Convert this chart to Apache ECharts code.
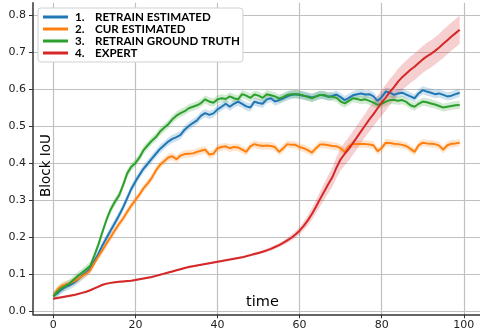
<!DOCTYPE html>
<html><head><meta charset="utf-8">
<script src="https://cdn.jsdelivr.net/npm/echarts@6/dist/echarts.min.js"></script>
<style>html,body{margin:0;padding:0;background:#fff}#c{width:480px;height:333px}</style>
</head><body><div id="c"></div>
<script>
const timeSteps = [...Array(100).keys()];
const seriesNames = ['RETRAIN ESTIMATED', 'CUR ESTIMATED', 'RETRAIN GROUND TRUTH', 'EXPERT'];
const xTicks = [0, 20, 40, 60, 80, 100];
const yTicks = [0, 0.1, 0.2, 0.3, 0.4, 0.5, 0.6, 0.7, 0.8];

const retrainEstimated = [
0.040,0.048,0.058,0.065,0.070,0.076,0.085,0.095,0.105,0.115,
0.135,0.155,0.178,0.198,0.218,0.238,0.258,0.280,0.305,0.330,
0.350,0.368,0.385,0.398,0.412,0.425,0.438,0.448,0.458,0.465,
0.470,0.476,0.490,0.500,0.508,0.515,0.528,0.535,0.530,0.534,
0.545,0.552,0.560,0.552,0.560,0.566,0.560,0.553,0.550,0.566,
0.562,0.560,0.572,0.575,0.566,0.570,0.575,0.580,0.584,0.586,
0.584,0.582,0.580,0.577,0.580,0.584,0.583,0.579,0.581,0.585,
0.578,0.570,0.576,0.583,0.586,0.588,0.585,0.586,0.580,0.568,
0.578,0.593,0.590,0.584,0.588,0.590,0.585,0.580,0.575,0.588,
0.597,0.593,0.590,0.586,0.588,0.584,0.580,0.582,0.586,0.590];

const curEstimated = [
0.040,0.058,0.068,0.072,0.075,0.080,0.087,0.094,0.101,0.110,
0.130,0.148,0.165,0.183,0.200,0.218,0.235,0.250,0.268,0.285,
0.300,0.315,0.332,0.345,0.360,0.380,0.395,0.405,0.415,0.418,
0.410,0.420,0.424,0.425,0.426,0.430,0.433,0.436,0.423,0.425,
0.440,0.443,0.445,0.440,0.443,0.442,0.436,0.430,0.445,0.451,
0.448,0.446,0.447,0.446,0.443,0.430,0.440,0.451,0.449,0.449,
0.443,0.440,0.435,0.428,0.440,0.450,0.450,0.448,0.446,0.445,
0.440,0.430,0.445,0.452,0.451,0.451,0.451,0.450,0.448,0.432,
0.440,0.455,0.454,0.452,0.451,0.449,0.446,0.438,0.430,0.448,
0.455,0.453,0.452,0.451,0.447,0.436,0.448,0.452,0.453,0.455];

const retrainGroundTruth = [
0.040,0.052,0.062,0.068,0.075,0.085,0.095,0.104,0.113,0.122,
0.150,0.180,0.215,0.248,0.275,0.295,0.312,0.340,0.372,0.390,
0.400,0.415,0.435,0.448,0.460,0.470,0.485,0.495,0.505,0.518,
0.528,0.535,0.540,0.548,0.552,0.556,0.562,0.572,0.566,0.563,
0.572,0.575,0.573,0.580,0.575,0.572,0.586,0.582,0.576,0.585,
0.582,0.576,0.586,0.583,0.580,0.574,0.578,0.584,0.586,0.586,
0.585,0.582,0.578,0.575,0.580,0.584,0.583,0.580,0.579,0.576,
0.566,0.561,0.568,0.575,0.573,0.570,0.572,0.568,0.563,0.557,
0.560,0.566,0.570,0.570,0.568,0.570,0.565,0.556,0.552,0.560,
0.566,0.564,0.561,0.558,0.554,0.550,0.552,0.554,0.556,0.557];

const expert = [
0.033,0.035,0.037,0.039,0.041,0.043,0.046,0.049,0.052,0.056,
0.061,0.066,0.071,0.074,0.076,0.078,0.079,0.080,0.081,0.082,
0.084,0.086,0.088,0.090,0.092,0.095,0.098,0.101,0.104,0.107,
0.110,0.113,0.116,0.119,0.121,0.123,0.125,0.127,0.129,0.131,
0.133,0.135,0.137,0.139,0.141,0.143,0.145,0.148,0.151,0.154,
0.157,0.160,0.164,0.168,0.173,0.178,0.184,0.191,0.198,0.207,
0.217,0.230,0.245,0.262,0.282,0.303,0.323,0.343,0.362,0.388,
0.410,0.425,0.438,0.454,0.470,0.486,0.502,0.518,0.532,0.548,
0.563,0.577,0.592,0.605,0.620,0.632,0.642,0.652,0.660,0.670,
0.680,0.688,0.695,0.703,0.712,0.722,0.732,0.742,0.751,0.760];

// half-width of the shaded confidence bands
const retrainEstimatedSpread = 0.011;
const curEstimatedSpread = 0.010;
const retrainGroundTruthSpread = 0.011;
const expertSpread = [
0.003,0.003,0.003,0.003,0.003,0.003,0.003,0.003,0.003,0.003,
0.003,0.003,0.003,0.003,0.003,0.003,0.003,0.003,0.003,0.003,
0.003,0.003,0.003,0.003,0.003,0.003,0.003,0.003,0.003,0.003,
0.003,0.003,0.003,0.003,0.003,0.003,0.003,0.003,0.003,0.003,
0.003,0.003,0.003,0.003,0.003,0.003,0.003,0.003,0.003,0.004,
0.004,0.004,0.005,0.005,0.005,0.006,0.006,0.007,0.008,0.009,
0.010,0.012,0.014,0.016,0.018,0.020,0.022,0.024,0.026,0.028,
0.030,0.031,0.032,0.032,0.032,0.032,0.032,0.033,0.033,0.034,
0.035,0.035,0.035,0.035,0.035,0.035,0.035,0.036,0.036,0.036,
0.036,0.037,0.037,0.037,0.037,0.038,0.038,0.038,0.038,0.038];

const colors = ['#1f77b4', '#ff7f0e', '#2ca02c', '#d62728'];
const values = [retrainEstimated, curEstimated, retrainGroundTruth, expert];
const spreads = [retrainEstimatedSpread, curEstimatedSpread, retrainGroundTruthSpread, expertSpread];

function sp(s, i) { return Array.isArray(s) ? s[i] : s; }

const series = [];
values.forEach((vals, k) => {
  series.push({
    name: 'band-' + k, type: 'custom', silent: true, z: 1, animation: false,
    data: [[0, vals[0]]],
    renderItem: (params, api) => {
      const pts = [];
      for (let i = 0; i < vals.length; i++) pts.push(api.coord([timeSteps[i], vals[i] + sp(spreads[k], i)]));
      for (let i = vals.length - 1; i >= 0; i--) pts.push(api.coord([timeSteps[i], vals[i] - sp(spreads[k], i)]));
      return { type: 'polygon', shape: { points: pts }, style: { fill: colors[k], opacity: 0.22 } };
    }
  });
});
values.forEach((vals, k) => {
  series.push({
    name: seriesNames[k], type: 'line', data: vals.map((v, i) => [timeSteps[i], v]),
    symbol: 'none', color: colors[k], lineStyle: { width: 2, color: colors[k] },
    z: 3 + k, animation: false
  });
});

const LF = "Lato, 'Liberation Sans', sans-serif";
const FS = 11.6;
const chart = echarts.init(document.getElementById('c'), null, { renderer: 'canvas' });
chart.setOption({
  backgroundColor: '#fff',
  animation: false,
  grid: { left: 33, top: 2.7, width: 454, height: 311.6, containLabel: false },
  xAxis: {
    type: 'value', min: -4.95, max: 103.95, minInterval: 20, maxInterval: 20,
    axisLine: { show: true, onZero: false, lineStyle: { color: '#333', width: 1.5 } },
    axisTick: { show: true, length: 4, customValues: xTicks, lineStyle: { color: '#333' } },
    axisLabel: { customValues: xTicks, margin: 5, color: '#222', fontSize: 11, fontFamily: 'DejaVu Sans' },
    splitLine: { show: true, lineStyle: { color: '#c0c0c0', width: 1.2 } }
  },
  yAxis: {
    type: 'value', min: -0.0089, max: 0.8332, minInterval: 0.1, maxInterval: 0.1,
    axisLine: { show: true, onZero: false, lineStyle: { color: '#333', width: 1.5 } },
    axisTick: { show: true, length: 4, customValues: yTicks, lineStyle: { color: '#333' } },
    axisLabel: { customValues: yTicks, margin: 7, color: '#222', fontSize: 11, fontFamily: 'DejaVu Sans',
      formatter: v => v.toFixed(1) },
    splitLine: { show: true, lineStyle: { color: '#c0c0c0', width: 1.2 } }
  },
  legend: {
    data: seriesNames.map(n => ({ name: n, icon: 'rect' })),
    orient: 'vertical', left: 38, top: 8,
    padding: [3, 3, 3, 5], itemGap: 0, itemWidth: 25, itemHeight: 3,
    backgroundColor: '#fff', borderColor: '#d0d0d0', borderWidth: 1, borderRadius: 3,
    selectedMode: false,
    formatter: name => '{n|' + (seriesNames.indexOf(name) + 1) + '.}{t|' + name + '}',
    textStyle: {
      color: '#000', fontWeight: 'bold', fontSize: FS, fontFamily: LF,
      rich: {
        n: { width: 20, padding: [0, 0, 0, 2], fontWeight: 'bold', fontSize: FS, lineHeight: 16.2, color: '#000', fontFamily: LF },
        t: { fontWeight: 'bold', fontSize: FS, lineHeight: 16.2, color: '#000', fontFamily: LF }
      }
    }
  },
  graphic: [
    { type: 'text', x: 46, y: 165.5, rotation: Math.PI / 2, z: 10,
      style: { text: 'Block IoU', fontSize: 13.5, fontFamily: 'DejaVu Sans', fill: '#000', align: 'center', verticalAlign: 'middle' } },
    { type: 'text', x: 262.5, y: 302, z: 10,
      style: { text: 'time', fontSize: 14.5, fontFamily: 'DejaVu Sans', fill: '#000', align: 'center', verticalAlign: 'middle' } }
  ],
  series: series
});
</script></body></html>
